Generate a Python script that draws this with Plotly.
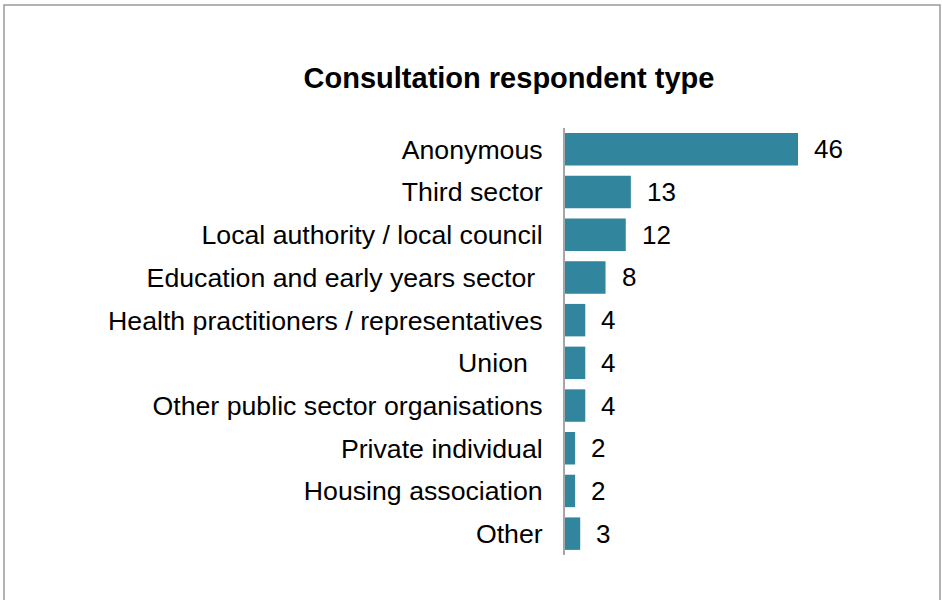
import plotly.graph_objects as go

categories = [
    "Anonymous",
    "Third sector",
    "Local authority / local council",
    "Education and early years sector\u00a0",
    "Health practitioners / representatives",
    "Union\u00a0\u00a0",
    "Other public sector organisations",
    "Private individual",
    "Housing association",
    "Other",
]
values = [46, 13, 12, 8, 4, 4, 4, 2, 2, 3]
title_text = "Consultation respondent type"

W_FIG, H_FIG = 942, 600
L, T = 565, 128
PW, PH = 284, 427
FONT = "Liberation Sans, Arial, sans-serif"
BAR = "#31859C"

fig = go.Figure(
    go.Bar(
        x=values,
        y=categories,
        orientation="h",
        marker=dict(color=BAR, line=dict(width=0)),
        width=0.76,
        hoverinfo="skip",
    )
)

for v, c in zip(values, categories):
    fig.add_annotation(
        x=v, y=c, xref="x", yref="y", text=str(v), showarrow=False,
        xanchor="left", yanchor="middle", xshift=14,
        font=dict(family=FONT, size=26, color="#000000"),
    )

def px_x(p):
    return (p - L) / PW

def px_y(p):
    return 1 - (p - T) / PH

fig.add_shape(
    type="rect", xref="paper", yref="paper",
    x0=px_x(4), x1=px_x(940), y0=px_y(640), y1=px_y(5),
    line=dict(color="#999999", width=1.5), fillcolor="rgba(0,0,0,0)",
    layer="below",
)

fig.update_layout(
    width=W_FIG, height=H_FIG,
    margin=dict(l=L, r=W_FIG - L - PW, t=T, b=H_FIG - T - PH, pad=0),
    paper_bgcolor="white", plot_bgcolor="white",
    showlegend=False,
    title=dict(
        text="<b>" + title_text + "</b>",
        xref="container", yref="container",
        x=509 / W_FIG, y=1 - 78 / H_FIG,
        xanchor="center", yanchor="middle",
        font=dict(family=FONT, size=29, color="#000000"),
    ),
    xaxis=dict(
        range=[0, PW / (233 / 46)], showgrid=False, zeroline=False,
        showline=False, showticklabels=False, ticks="", fixedrange=True,
    ),
    yaxis=dict(
        categoryorder="array", categoryarray=categories, autorange="reversed",
        showgrid=False, zeroline=False, showline=True,
        linecolor="#a6a6a6", linewidth=2, ticks="",
        ticklabelstandoff=15,
        tickfont=dict(family=FONT, size=26.7, color="#000000"),
        fixedrange=True,
    ),
    font=dict(family=FONT),
)

fig.write_html("out.html")
